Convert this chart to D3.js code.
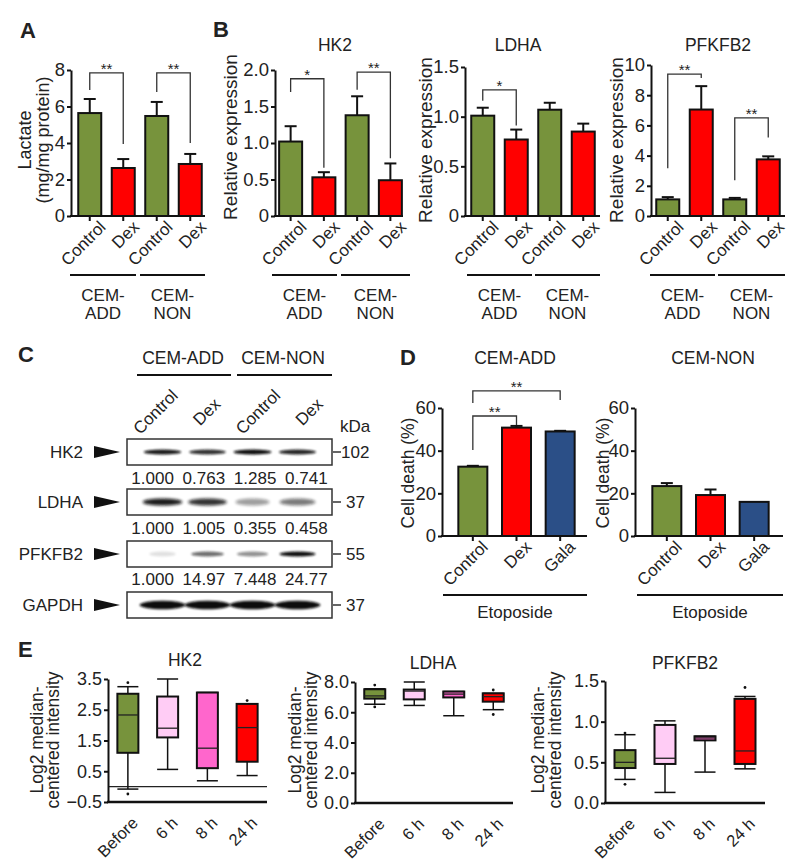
<!DOCTYPE html>
<html><head><meta charset="utf-8">
<script src="https://cdn.jsdelivr.net/npm/d3@7"></script>
<style>
body{margin:0;background:#fff;}
svg text{font-family:"Liberation Sans",Arial,sans-serif;fill:#222;}
</style></head><body>
<svg id="fig" width="800" height="868"></svg>
<script>
// ---------------- DATA ----------------
const conds = ["Control","Dex","Control","Dex"];
const cellGroups = [["CEM-","ADD"],["CEM-","NON"]];
const barColors = ["#77933c","#ff0000","#77933c","#ff0000"];

const lactate = [5.64, 2.63, 5.48, 2.85];
const lactateErr = [0.77, 0.49, 0.77, 0.55];
const hk2Expr = [1.02, 0.53, 1.38, 0.49];
const hk2Err = [0.21, 0.07, 0.26, 0.23];
const ldhaExpr = [1.01, 0.77, 1.07, 0.85];
const ldhaErr = [0.08, 0.10, 0.07, 0.08];
const pfkExpr = [1.10, 7.05, 1.10, 3.75];
const pfkErr = [0.15, 1.55, 0.10, 0.20];

const deathCats = ["Control","Dex","Gala"];
const deathColors = ["#77933c","#ff0000","#2b4f87"];
const deathAdd = [32.5, 50.8, 49.0];
const deathAddErr = [0.4, 0.8, 0.3];
const deathNon = [23.4, 19.2, 16.0];
const deathNonErr = [1.4, 2.6, 0];

const blotLanes = ["Control","Dex","Control","Dex"];
const blotProteins = ["HK2","LDHA","PFKFB2","GAPDH"];
const blotKDa = ["102","37","55","37"];
const quantHK2 = ["1.000","0.763","1.285","0.741"];
const quantLDHA = ["1.000","1.005","0.355","0.458"];
const quantPFK = ["1.000","14.97","7.448","24.77"];
const bandHK2 = [0.95, 0.85, 1.0, 0.9];
const bandLDHA = [0.95, 0.85, 0.4, 0.55];
const bandPFK = [0.12, 0.6, 0.45, 1.0];
const bandGAPDH = [1.0, 1.0, 1.0, 1.0];

const timePoints = ["Before","6 h","8 h","24 h"];
const boxColors = ["#77933c","#ffccf5","#ff66cc","#ff0000"];
// [low whisker, q1, median, q3, high whisker]
const hk2Box = [[-0.08,1.10,2.33,3.02,3.25],[0.56,1.60,1.90,2.93,3.50],[0.19,0.60,1.25,3.06,3.06],[0.36,0.81,1.92,2.69,2.69]];
const hk2Out = [[3.38,-0.24],[],[],[2.80]];
const ldhaBox = [[6.53,6.90,7.08,7.52,7.55],[6.45,6.85,7.40,7.50,8.00],[5.77,6.98,7.20,7.37,7.37],[6.17,6.70,7.03,7.25,7.25]];
const ldhaOut = [[7.80,6.35],[],[],[7.47,5.85]];
const pfkBox = [[0.29,0.43,0.50,0.65,0.84],[0.13,0.48,0.55,0.96,1.01],[0.38,0.77,0.80,0.82,0.82],[0.42,0.48,0.64,1.28,1.31]];
const pfkOut = [[0.86,0.23],[],[],[1.42]];

// ---------------- DRAWING ----------------
const svg = d3.select("#fig");
const FS = 17;
const TICK_FS = 18.5;

function styleAxis(g, fs){
  g.attr("font-family", null).attr("font-size", null);
  g.select(".domain").attr("stroke","#111").attr("stroke-width",2);
  g.selectAll(".tick line").attr("stroke","#111").attr("stroke-width",2);
  g.selectAll(".tick text").attr("fill","#222").style("font-size",fs+"px");
}

function title(t, x, y){
  svg.append("text").attr("x",x).attr("y",y).attr("text-anchor","middle").style("font-size","17.5px").text(t);
}
function ylabel(lines, y, fs){
  lines.forEach(([t,x])=>{
    svg.append("text").attr("transform",`translate(${x},${y}) rotate(-90)`)
      .attr("text-anchor","middle").attr("dominant-baseline","central")
      .style("font-size",(fs||FS)+"px").text(t);
  });
}

function barPanel(o){
  const g = svg.append("g");
  const y = d3.scaleLinear().domain([0,o.max]).range([o.y0,o.yTop]);
  const x = d3.scalePoint().domain(d3.range(o.cats.length)).range(o.cr).padding(0.5);
  o.values.forEach((v,i)=>{
    const e = o.errs[i]; if(!e) return;
    g.append("line").attr("x1",x(i)).attr("x2",x(i)).attr("y1",y(v)).attr("y2",y(v+e)).attr("stroke","#111").attr("stroke-width",2);
    g.append("line").attr("x1",x(i)-o.capW/2).attr("x2",x(i)+o.capW/2).attr("y1",y(v+e)).attr("y2",y(v+e)).attr("stroke","#111").attr("stroke-width",2);
  });
  g.selectAll("rect.bar").data(o.values).join("rect").attr("class","bar")
    .attr("x",(d,i)=>x(i)-o.barW/2).attr("y",d=>y(d))
    .attr("width",o.barW).attr("height",d=>o.y0-y(d))
    .attr("fill",(d,i)=>o.colors[i]).attr("stroke","#111").attr("stroke-width",2);
  const ya = g.append("g").attr("transform",`translate(${o.x0},0)`)
    .call(d3.axisLeft(y).tickValues(o.ticks).tickFormat(o.fmt).tickSize(4).tickSizeOuter(0).tickPadding(2));
  styleAxis(ya, TICK_FS);
  g.append("line").attr("x1",o.x0-1).attr("x2",o.xEnd).attr("y1",o.y0).attr("y2",o.y0).attr("stroke","#111").attr("stroke-width",2);
  o.cats.forEach((c,i)=>{
    g.append("line").attr("x1",x(i)).attr("x2",x(i)).attr("y1",o.y0).attr("y2",o.y0+5).attr("stroke","#111").attr("stroke-width",2);
    g.append("text").attr("text-anchor","end")
      .attr("transform",`translate(${x(i)+o.labelDx},${o.y0+o.labelDy}) rotate(-45)`)
      .style("font-size",FS+"px").text(c);
  });
  (o.brackets||[]).forEach(b=>{
    const xa=x(b.a), xb=x(b.b);
    g.append("path").attr("d",`M${xa},${y(b.l)}V${y(b.top)}H${xb}V${y(b.r)}`)
      .attr("fill","none").attr("stroke","#333").attr("stroke-width",1.3);
    g.append("text").attr("x",(xa+xb)/2).attr("y",y(b.top)+1).attr("text-anchor","middle")
      .style("font-size","15px").attr("fill","#333").text(b.t);
  });
  (o.groupLines||[]).forEach(([a,b],k)=>{
    g.append("line").attr("x1",a).attr("x2",b).attr("y1",o.groupY).attr("y2",o.groupY).attr("stroke","#111").attr("stroke-width",2);
    o.groupLabels[k].forEach((t,j)=>{
      g.append("text").attr("x",(a+b)/2).attr("y",o.groupTextY + j*18).attr("text-anchor","middle")
        .style("font-size",FS+"px").text(t);
    });
  });
}

function boxPanel(o){
  const g = svg.append("g");
  const y = d3.scaleLinear().domain(o.domain).range([o.y0,o.yTop]);
  const x = d3.scalePoint().domain(d3.range(o.cats.length)).range(o.cr).padding(0.5);
  if(o.zero){
    g.append("line").attr("x1",o.x0).attr("x2",o.xEnd).attr("y1",y(0)).attr("y2",y(0)).attr("stroke","#222").attr("stroke-width",1.2);
  }
  const w = o.boxW;
  o.boxes.forEach((b,i)=>{
    const cx = x(i);
    const [lo,q1,md,q3,hi] = b;
    g.append("line").attr("x1",cx).attr("x2",cx).attr("y1",y(lo)).attr("y2",y(q1)).attr("stroke","#111").attr("stroke-width",1.5);
    g.append("line").attr("x1",cx).attr("x2",cx).attr("y1",y(q3)).attr("y2",y(hi)).attr("stroke","#111").attr("stroke-width",1.5);
    [lo,hi].forEach(v=>g.append("line").attr("x1",cx-w/2).attr("x2",cx+w/2).attr("y1",y(v)).attr("y2",y(v)).attr("stroke","#111").attr("stroke-width",1.5));
    g.append("rect").attr("x",cx-w/2).attr("y",y(q3)).attr("width",w).attr("height",Math.max(1,y(q1)-y(q3)))
      .attr("fill",o.colors[i]).attr("stroke","#111").attr("stroke-width",2);
    g.append("line").attr("x1",cx-w/2).attr("x2",cx+w/2).attr("y1",y(md)).attr("y2",y(md)).attr("stroke","#222").attr("stroke-width",1.3);
    o.out[i].forEach(v=>g.append("circle").attr("cx",cx).attr("cy",y(v)).attr("r",1.4).attr("fill","#111"));
  });
  const ya = g.append("g").attr("transform",`translate(${o.x0},0)`)
    .call(d3.axisLeft(y).tickValues(o.ticks).tickFormat(d3.format(".1f")).tickSize(4).tickSizeOuter(0).tickPadding(2));
  styleAxis(ya, 18);
  g.append("line").attr("x1",o.x0-1).attr("x2",o.xEnd).attr("y1",o.y0).attr("y2",o.y0).attr("stroke","#111").attr("stroke-width",2.5);
  o.cats.forEach((c,i)=>{
    g.append("text").attr("text-anchor","end")
      .attr("transform",`translate(${x(i)+11},${o.y0+22}) rotate(-45)`)
      .style("font-size","16.5px").text(c);
  });
}

// panel letters
[["A",20,38],["B",213,37],["C",18,362],["D",400,365],["E",18,657]].forEach(([t,x,y])=>{
  svg.append("text").attr("x",x).attr("y",y).style("font-size","22px").style("font-weight","bold").attr("fill","#000").text(t);
});

const fmt1 = d => d===0 ? "0" : d3.format(".1f")(d);
const fmt0 = d3.format("d");

// Panel A
barPanel({x0:71,xEnd:205,y0:216,yTop:70,max:8,ticks:[0,2,4,6,8],fmt:fmt0,cats:conds,values:lactate,errs:lactateErr,
  colors:barColors,barW:23,capW:12,cr:[73,207],labelDx:17,labelDy:12,
  brackets:[{a:0,b:1,top:7.84,l:6.9,r:3.95,t:"**"},{a:2,b:3,top:7.84,l:6.8,r:4.0,t:"**"}],
  groupLines:[[70,136],[140,205]],groupLabels:cellGroups,groupY:275,groupTextY:301});
ylabel([["Lactate",25],["(mg/mg protein)",43]],140,18);

// Panel B
barPanel({x0:275,xEnd:403,y0:216,yTop:70,max:2,ticks:[0,0.5,1,1.5,2],fmt:fmt1,cats:conds,values:hk2Expr,errs:hk2Err,
  colors:barColors,barW:23,capW:12,cr:[274,407],labelDx:17,labelDy:12,
  brackets:[{a:0,b:1,top:1.88,l:1.7,r:0.66,t:"*"},{a:2,b:3,top:1.97,l:1.73,r:0.79,t:"**"}],
  groupLines:[[272,337],[341,410]],groupLabels:cellGroups,groupY:275,groupTextY:301});
title("HK2",335,51);
ylabel([["Relative expression",230]],137,19);

barPanel({x0:465,xEnd:600,y0:216,yTop:67,max:1.5,ticks:[0,0.5,1,1.5],fmt:fmt1,cats:conds,values:ldhaExpr,errs:ldhaErr,
  colors:barColors,barW:23,capW:12,cr:[466,600],labelDx:17,labelDy:12,
  brackets:[{a:0,b:1,top:1.27,l:1.16,r:0.91,t:"*"}],
  groupLines:[[467,532],[535,600]],groupLabels:cellGroups,groupY:275,groupTextY:301});
title("LDHA",518,51);
ylabel([["Relative expression",425]],140,19);

barPanel({x0:651,xEnd:785,y0:216,yTop:65,max:10,ticks:[0,2,4,6,8,10],fmt:fmt0,cats:conds,values:pfkExpr,errs:pfkErr,
  colors:barColors,barW:23,capW:12,cr:[651,785],labelDx:17,labelDy:12,
  brackets:[{a:0,b:1,top:9.4,l:3.16,r:9.14,t:"**"},{a:2,b:3,top:6.5,l:2.37,r:5.2,t:"**"}],
  groupLines:[[650,715],[718,785]],groupLabels:cellGroups,groupY:275,groupTextY:301});
title("PFKFB2",718,51);
ylabel([["Relative expression",616]],140,19);

// Panel C (western blot)
(function(){
  const defs = svg.append("defs");
  [["b1",1.1],["b2",1.8]].forEach(([id,s])=>{
    defs.append("filter").attr("id",id).attr("x","-30%").attr("y","-200%").attr("width","160%").attr("height","500%")
      .append("feGaussianBlur").attr("stdDeviation",s);
  });
  const qx = d3.scalePoint().domain(d3.range(4)).range([127,332]).padding(0.5);
  const lx = d3.scalePoint().domain(d3.range(4)).range([140,320]).padding(0.5);
  const g = svg.append("g");
  title("CEM-ADD",183,364); title("CEM-NON",283,364);
  [[137,231],[237,332]].forEach(([a,b])=>g.append("line").attr("x1",a).attr("x2",b).attr("y1",375).attr("y2",375).attr("stroke","#111").attr("stroke-width",2));
  blotLanes.forEach((t,i)=>{
    g.append("text").attr("transform",`translate(${qx(i)+3},412) rotate(-45)`).attr("text-anchor","middle")
      .attr("dominant-baseline","central").style("font-size",FS+"px").text(t);
  });
  g.append("text").attr("x",340).attr("y",432).style("font-size",FS+"px").text("kDa");
  const rowTop = [439,489,541,592], rowH = 26;
  const bands = [bandHK2,bandLDHA,bandPFK,bandGAPDH];
  const bandStyle = [{rx:19,ry:2.6,f:"b1"},{rx:20,ry:3.6,f:"b2"},{rx:18,ry:2.6,f:"b1"},{rx:23,ry:4.2,f:"b1"}];
  blotProteins.forEach((p,r)=>{
    const cy = rowTop[r]+rowH/2;
    g.append("rect").attr("x",127).attr("y",rowTop[r]).attr("width",205).attr("height",rowH)
      .attr("fill","#fff").attr("stroke","#333").attr("stroke-width",1.5);
    bands[r].forEach((v,i)=>{
      g.append("ellipse").attr("cx",lx(i)).attr("cy",cy).attr("rx",bandStyle[r].rx*(0.6+0.4*Math.sqrt(v))).attr("ry",bandStyle[r].ry)
        .attr("fill","#111").attr("opacity",v).attr("filter",`url(#${bandStyle[r].f})`);
    });
    g.append("text").attr("x",83).attr("y",cy+6).attr("text-anchor","end").style("font-size",FS+"px").text(p);
    g.append("path").attr("d",`M94,${cy-6}L120,${cy}L94,${cy+6}Z`).attr("fill","#111");
    g.append("line").attr("x1",333).attr("x2",341).attr("y1",cy).attr("y2",cy).attr("stroke","#333").attr("stroke-width",1.5);
    g.append("text").attr("x",r===0?341:346).attr("y",cy+6).style("font-size",FS+"px").text(blotKDa[r]);
  });
  [[quantHK2,484],[quantLDHA,534],[quantPFK,585]].forEach(([arr,yy])=>{
    arr.forEach((t,i)=>g.append("text").attr("x",qx(i)).attr("y",yy).attr("text-anchor","middle").style("font-size",FS+"px").text(t));
  });
})();

// Panel D
barPanel({x0:442,xEnd:587,y0:536,yTop:408,max:60,ticks:[0,20,40,60],fmt:fmt0,cats:deathCats,values:deathAdd,errs:deathAddErr,
  colors:deathColors,barW:29,capW:12,cr:[451,582],labelDx:16,labelDy:12,
  brackets:[{a:0,b:1,top:56.25,l:40.3,r:52,t:"**"},{a:0,b:2,top:68,l:62.3,r:63.75,t:"**"}],
  groupLines:[[443,587]],groupLabels:[["Etoposide"]],groupY:595,groupTextY:618});
title("CEM-ADD",515,364);
ylabel([["Cell death (%)",408]],473,17.5);

barPanel({x0:635,xEnd:783,y0:536,yTop:408,max:60,ticks:[0,20,40,60],fmt:fmt0,cats:deathCats,values:deathNon,errs:deathNonErr,
  colors:deathColors,barW:29,capW:12,cr:[645,776],labelDx:16,labelDy:12,
  brackets:[],groupLines:[[637,783]],groupLabels:[["Etoposide"]],groupY:595,groupTextY:618});
title("CEM-NON",713,364);
ylabel([["Cell death (%)",603]],473,17.5);

// Panel E
boxPanel({x0:108,xEnd:267,y0:802,yTop:679,domain:[-0.5,3.5],ticks:[-0.5,0.5,1.5,2.5,3.5],cats:timePoints,
  boxes:hk2Box,out:hk2Out,colors:boxColors,boxW:21,cr:[108,267],zero:true});
title("HK2",185,666);
ylabel([["Log2 median-",37],["centered intensity",53]],740,17.5);

boxPanel({x0:355,xEnd:513,y0:803,yTop:682,domain:[0,8],ticks:[0,2,4,6,8],cats:timePoints,
  boxes:ldhaBox,out:ldhaOut,colors:boxColors,boxW:21,cr:[355,513]});
title("LDHA",433,669);
ylabel([["Log2 median-",295],["centered intensity",311]],740,17.5);

boxPanel({x0:605,xEnd:765,y0:803,yTop:681,domain:[0,1.5],ticks:[0,0.5,1,1.5],cats:timePoints,
  boxes:pfkBox,out:pfkOut,colors:boxColors,boxW:21,cr:[605,765]});
title("PFKFB2",685,669);
ylabel([["Log2 median-",538],["centered intensity",555]],740,17.5);
</script>
</body></html>
